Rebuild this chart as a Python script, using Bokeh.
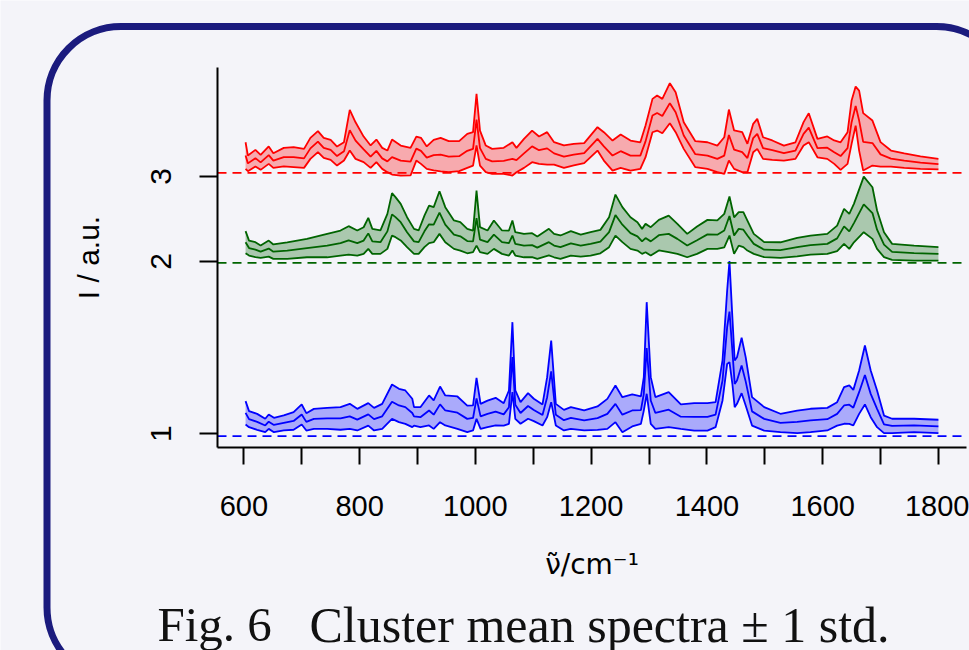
from bokeh.plotting import figure
from bokeh.models import Range1d, FixedTicker, Label, BoxAnnotation
from bokeh.embed import file_html
from bokeh.resources import INLINE

# ---------------- data ----------------
# cluster 1 (blue)
wn_1 = [603, 609, 623, 637, 643, 652, 669, 686, 700, 708, 721, 744, 767, 783, 796, 815, 825, 839,
        856, 868, 879, 891, 894, 905, 920, 928, 939, 948, 969, 986, 996, 1002, 1009, 1021, 1035,
        1049, 1058, 1064, 1069, 1078, 1091, 1101, 1116, 1124, 1131, 1139, 1153, 1165, 1188, 1211,
        1228, 1242, 1254, 1271, 1286, 1291, 1296, 1303, 1311, 1334, 1355, 1378, 1401, 1415, 1427,
        1435, 1439, 1444, 1448, 1452, 1460, 1467, 1478, 1499, 1527, 1556, 1579, 1608, 1625, 1637,
        1646, 1653, 1663, 1673, 1683, 1694, 1706, 1720, 1758, 1800]
mean_1 = [0.233, 0.170, 0.143, 0.107, 0.145, 0.112, 0.132, 0.152, 0.217, 0.143, 0.173, 0.178, 0.177,
          0.198, 0.165, 0.218, 0.170, 0.198, 0.345, 0.307, 0.290, 0.232, 0.198, 0.190, 0.257, 0.215,
          0.318, 0.257, 0.235, 0.173, 0.182, 0.378, 0.198, 0.223, 0.245, 0.218, 0.290, 0.790, 0.315,
          0.232, 0.302, 0.262, 0.212, 0.390, 0.648, 0.215, 0.160, 0.182, 0.157, 0.180, 0.223, 0.323,
          0.215, 0.257, 0.260, 0.423, 0.882, 0.357, 0.232, 0.265, 0.195, 0.193, 0.193, 0.215, 0.557,
          1.090, 1.245, 0.857, 0.523, 0.557, 0.707, 0.548, 0.248, 0.173, 0.132, 0.143, 0.157, 0.170,
          0.223, 0.307, 0.315, 0.285, 0.440, 0.612, 0.423, 0.273, 0.118, 0.102, 0.107, 0.097]
sd_1 = [0.117, 0.080, 0.080, 0.067, 0.072, 0.072, 0.075, 0.088, 0.100, 0.087, 0.100, 0.105, 0.113,
        0.125, 0.108, 0.112, 0.113, 0.125, 0.172, 0.167, 0.167, 0.142, 0.092, 0.100, 0.150, 0.142,
        0.178, 0.150, 0.162, 0.133, 0.125, 0.205, 0.125, 0.133, 0.138, 0.112, 0.167, 0.350, 0.142,
        0.108, 0.128, 0.112, 0.105, 0.200, 0.308, 0.108, 0.103, 0.108, 0.100, 0.117, 0.150, 0.183,
        0.175, 0.160, 0.137, 0.167, 0.458, 0.233, 0.158, 0.175, 0.122, 0.137, 0.137, 0.125, 0.200,
        0.367, 0.505, 0.333, 0.233, 0.233, 0.277, 0.242, 0.142, 0.117, 0.092, 0.113, 0.117, 0.113,
        0.117, 0.183, 0.192, 0.178, 0.217, 0.295, 0.233, 0.183, 0.088, 0.072, 0.067, 0.067]

# cluster 2 (green)
wn_2 = [603, 609, 620, 629, 643, 651, 675, 709, 744, 767, 781, 796, 807, 815, 822, 836, 848, 856,
        862, 871, 882, 894, 902, 912, 920, 928, 938, 948, 963, 974, 986, 996, 1002, 1008, 1021,
        1032, 1046, 1058, 1064, 1069, 1084, 1098, 1107, 1127, 1136, 1147, 1165, 1182, 1199, 1216,
        1231, 1242, 1254, 1268, 1280, 1288, 1294, 1303, 1317, 1334, 1349, 1366, 1383, 1401, 1418,
        1430, 1439, 1447, 1455, 1463, 1470, 1481, 1499, 1527, 1556, 1579, 1608, 1625, 1637, 1646,
        1654, 1671, 1686, 1694, 1706, 1720, 1758, 1800]
mean_2 = [0.207, 0.148, 0.132, 0.112, 0.143, 0.112, 0.123, 0.148, 0.173, 0.198, 0.225, 0.198, 0.223,
          0.295, 0.215, 0.207, 0.315, 0.485, 0.457, 0.407, 0.307, 0.215, 0.207, 0.315, 0.385, 0.382,
          0.503, 0.382, 0.282, 0.265, 0.218, 0.215, 0.448, 0.232, 0.207, 0.282, 0.207, 0.198, 0.273,
          0.190, 0.173, 0.177, 0.152, 0.207, 0.173, 0.157, 0.195, 0.173, 0.190, 0.213, 0.307, 0.478,
          0.382, 0.298, 0.265, 0.215, 0.248, 0.215, 0.277, 0.290, 0.240, 0.173, 0.227, 0.285, 0.282,
          0.323, 0.468, 0.273, 0.340, 0.332, 0.273, 0.190, 0.132, 0.128, 0.157, 0.178, 0.190, 0.245,
          0.365, 0.315, 0.398, 0.585, 0.498, 0.332, 0.182, 0.110, 0.098, 0.090]
sd_2 = [0.110, 0.075, 0.075, 0.062, 0.080, 0.072, 0.083, 0.092, 0.117, 0.125, 0.142, 0.125, 0.133,
        0.155, 0.125, 0.117, 0.175, 0.212, 0.200, 0.183, 0.150, 0.125, 0.117, 0.158, 0.188, 0.175,
        0.213, 0.175, 0.142, 0.142, 0.122, 0.108, 0.275, 0.125, 0.117, 0.142, 0.117, 0.125, 0.150,
        0.117, 0.117, 0.120, 0.112, 0.133, 0.117, 0.117, 0.122, 0.110, 0.117, 0.117, 0.150, 0.205,
        0.175, 0.158, 0.142, 0.125, 0.142, 0.142, 0.153, 0.183, 0.150, 0.117, 0.137, 0.145, 0.142,
        0.167, 0.195, 0.183, 0.167, 0.175, 0.150, 0.100, 0.075, 0.078, 0.093, 0.095, 0.100, 0.128,
        0.175, 0.175, 0.192, 0.278, 0.258, 0.192, 0.125, 0.080, 0.075, 0.067]

# cluster 3 (red)
wn_3 = [603, 607, 620, 629, 643, 651, 669, 686, 704, 715, 728, 738, 750, 761, 773, 783, 793, 807,
        819, 829, 839, 848, 856, 871, 888, 898, 906, 916, 928, 940, 954, 972, 986, 996, 1002, 1008,
        1018, 1029, 1049, 1064, 1071, 1084, 1098, 1110, 1124, 1136, 1153, 1170, 1188, 1211, 1222,
        1237, 1251, 1268, 1285, 1294, 1306, 1314, 1323, 1336, 1346, 1360, 1380, 1401, 1418, 1430,
        1438, 1447, 1461, 1470, 1480, 1487, 1497, 1513, 1533, 1553, 1567, 1576, 1591, 1608, 1620,
        1631, 1643, 1650, 1657, 1663, 1670, 1686, 1700, 1718, 1741, 1769, 1800]
mean_3 = [0.173, 0.095, 0.147, 0.105, 0.177, 0.123, 0.157, 0.157, 0.145, 0.245, 0.312, 0.250, 0.230,
          0.168, 0.215, 0.427, 0.323, 0.235, 0.162, 0.220, 0.145, 0.115, 0.158, 0.123, 0.112, 0.243,
          0.220, 0.152, 0.177, 0.183, 0.162, 0.167, 0.220, 0.240, 0.532, 0.248, 0.140, 0.115, 0.120,
          0.140, 0.128, 0.195, 0.265, 0.227, 0.245, 0.195, 0.162, 0.182, 0.197, 0.340, 0.265, 0.173,
          0.217, 0.173, 0.173, 0.315, 0.573, 0.598, 0.568, 0.697, 0.607, 0.373, 0.187, 0.173, 0.140,
          0.173, 0.378, 0.232, 0.207, 0.148, 0.348, 0.390, 0.248, 0.227, 0.198, 0.223, 0.390, 0.452,
          0.248, 0.252, 0.207, 0.168, 0.248, 0.507, 0.668, 0.523, 0.310, 0.298, 0.185, 0.143, 0.123,
          0.102, 0.087]
sd_3 = [0.133, 0.078, 0.083, 0.075, 0.087, 0.073, 0.093, 0.100, 0.095, 0.105, 0.105, 0.100, 0.100,
        0.095, 0.092, 0.203, 0.183, 0.128, 0.112, 0.113, 0.105, 0.108, 0.175, 0.150, 0.138, 0.120,
        0.130, 0.112, 0.153, 0.167, 0.155, 0.150, 0.170, 0.167, 0.258, 0.175, 0.133, 0.125, 0.130,
        0.167, 0.122, 0.145, 0.158, 0.137, 0.162, 0.112, 0.112, 0.108, 0.100, 0.117, 0.142, 0.150,
        0.167, 0.150, 0.133, 0.158, 0.167, 0.175, 0.172, 0.200, 0.200, 0.133, 0.130, 0.133, 0.133,
        0.183, 0.255, 0.192, 0.200, 0.142, 0.142, 0.150, 0.108, 0.097, 0.075, 0.083, 0.117, 0.145,
        0.092, 0.112, 0.117, 0.138, 0.158, 0.217, 0.195, 0.300, 0.287, 0.225, 0.122, 0.080, 0.073,
        0.062, 0.053]

offsets = [0.0, 1.733, 2.633]
colors = ["#0000ff", "#006400", "#ff0000"]
y_tick_pos = [0.024, 1.747, 2.597]
y_tick_labels = ["1", "2", "3"]
x_major = [600, 800, 1000, 1200, 1400, 1600, 1800]
x_minor = [700, 900, 1100, 1300, 1500, 1700]
caption_a = "Fig. 6"
caption_b = "Cluster mean spectra \u00b1 1 std."
x_title = "\u03bd\u0303/cm\u207b\u00b9"
y_title = "I / a.u."

# ---------------- geometry ----------------
W, H = 969, 650
AL, AR, AT, AB = 217, 966, 67, 447          # pixel box of the axes
X0, X1 = 554.5, 1848.5                       # data extent of the axes
Y0, Y1 = -0.1133, 3.6867
SX = (X1 - X0) / (AR - AL)
SY = (Y1 - Y0) / (AB - AT)
BG = "#f4f4f9"


def px_x(px):
    return X0 + (px - AL) * SX


def px_y(py):
    return Y1 - (py - AT) * SY


p = figure(width=W, height=H,
           x_range=Range1d(px_x(0), px_x(W)), y_range=Range1d(px_y(H), px_y(0)),
           output_backend="svg", toolbar_location=None,
           min_border_left=0, min_border_right=0, min_border_top=0, min_border_bottom=0)
p.background_fill_color = BG
p.border_fill_color = BG
p.outline_line_color = None
p.grid.visible = False

# rounded frame of the poster box
p.add_layout(BoxAnnotation(left=px_x(46.5), right=px_x(1010), top=px_y(26), bottom=px_y(681),
                           border_radius=74, fill_alpha=0, line_color="#1b1b7e", line_alpha=1.0,
                           line_width=7, level="underlay"))

spectra = [(wn_1, mean_1, sd_1), (wn_2, mean_2, sd_2), (wn_3, mean_3, sd_3)]
for (wn, m, s), off, col in zip(spectra, offsets, colors):
    up = [off + a + b for a, b in zip(m, s)]
    mid = [off + a for a in m]
    lo = [off + a - b for a, b in zip(m, s)]
    p.varea(x=wn, y1=lo, y2=up, fill_color=col, fill_alpha=0.3)
    for yy in (up, mid, lo):
        p.line(wn, yy, line_color=col, line_width=1.8)
    p.segment(x0=[X0], x1=[X1], y0=[off], y1=[off], line_color=col, line_width=1.6,
              line_dash="9 6")

xa = p.xaxis[0]
ya = p.yaxis[0]
xa.fixed_location = Y0
ya.fixed_location = X0
xa.bounds = (X0, X1)
ya.bounds = (Y0, Y1)
xa.ticker = FixedTicker(ticks=x_major, minor_ticks=x_minor)
ya.ticker = FixedTicker(ticks=y_tick_pos, minor_ticks=[])
ya.major_label_overrides = {t: l for t, l in zip(y_tick_pos, y_tick_labels)}
ya.major_label_orientation = "vertical"
xa.axis_label = x_title
ya.axis_label = y_title

for ax in (xa, ya):
    ax.axis_line_width = 2
    ax.axis_line_color = "black"
    ax.major_tick_line_width = 2
    ax.major_tick_line_color = "black"
    ax.minor_tick_line_width = 2
    ax.minor_tick_line_color = "black"
    ax.major_tick_in = 0
    ax.minor_tick_in = 0
    ax.major_label_text_font = "Liberation Sans"
    ax.major_label_text_color = "black"
    ax.axis_label_text_font = "Liberation Sans"
    ax.axis_label_text_font_style = "normal"
    ax.axis_label_text_color = "black"

xa.major_label_text_font_size = "29px"
xa.axis_label_text_font = "DejaVu Sans"
xa.axis_label_text_font_size = "28px"
ya.major_label_text_font_size = "30px"
ya.axis_label_text_font_size = "30px"
xa.major_tick_out = 17
xa.minor_tick_out = 17
ya.major_tick_out = 18
ya.minor_tick_out = 0
xa.major_label_standoff = 31
ya.major_label_standoff = 28
xa.axis_label_standoff = 29
ya.axis_label_standoff = 44

p.add_layout(Label(x=px_x(157), y=px_y(624), text=caption_a, text_font="Liberation Serif",
                   text_font_size="49px", text_color="#111111", text_baseline="alphabetic"))
p.add_layout(Label(x=px_x(309), y=px_y(624), text=caption_b, text_font="Liberation Serif",
                   text_font_size="50px", text_color="#111111", text_baseline="alphabetic"))

open("out.html", "w").write(file_html(p, INLINE))
